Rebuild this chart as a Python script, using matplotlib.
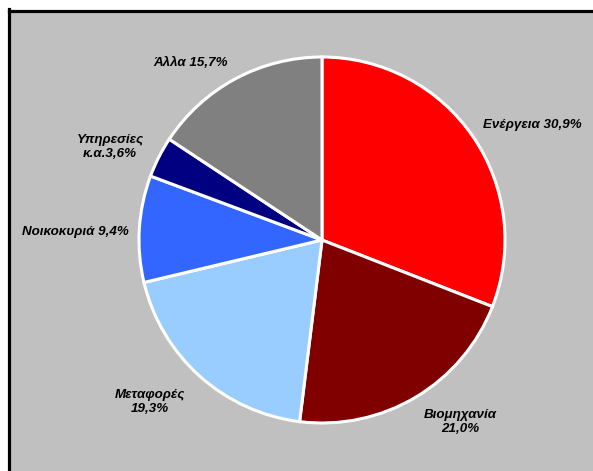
import matplotlib
matplotlib.use("Agg")
import matplotlib.pyplot as plt
from matplotlib.lines import Line2D
from matplotlib.patches import Rectangle

# Energy-sector shares (%)
sectors = ["Ενέργεια", "Βιομηχανία", "Μεταφορές", "Νοικοκυριά", "Υπηρεσίες\nκ.α.", "Άλλα"]
shares = [30.9, 21.0, 19.3, 9.4, 3.6, 15.7]
colors = ["#FF0000", "#800000", "#99CCFF", "#3366FF", "#000080", "#808080"]
separators = [" ", "\n", "\n", " ", "", " "]

# label anchor points, in pie-radius units
label_xy = [(1.148, 0.628), (0.754, -0.995), (-0.940, -0.885),
            (-1.350, 0.044), (-1.158, 0.508), (-0.721, 0.967)]

W, H = 593, 471
fig = plt.figure(figsize=(W / 100, H / 100), dpi=100)
fig.patch.set_facecolor("white")

# grey chart area with a heavy black border on the top and left
x0, ytop = 8.5 / W, 1 - 10.5 / H
fig.patches.append(Rectangle((x0, 0), 1 - x0, ytop, transform=fig.transFigure,
                             facecolor="#C0C0C0", edgecolor="none", zorder=-2))
fig.lines.append(Line2D([x0, 1], [ytop, ytop], transform=fig.transFigure,
                        color="black", linewidth=2.3, zorder=-1))
fig.lines.append(Line2D([x0, x0], [0, ytop + 1.2 / H], transform=fig.transFigure,
                        color="black", linewidth=2.3, zorder=-1))

cx, cy, r = 322, 240, 183
ax = fig.add_axes([(cx - r) / W, (H - cy - r) / H, 2 * r / W, 2 * r / H])
ax.set_facecolor("none")
ax.pie(shares, colors=colors, startangle=90, counterclock=False, radius=1.0,
       wedgeprops=dict(edgecolor="white", linewidth=2.2))
ax.set_xlim(-1, 1)
ax.set_ylim(-1, 1)
ax.set_aspect("equal")
ax.axis("off")

for name, v, sep, (lx, ly) in zip(sectors, shares, separators, label_xy):
    txt = f"{name}{sep}{v:.1f}".replace(".", ",") + "%"
    txt = txt.replace("κ,α,", "κ.α.")
    ax.text(lx, ly, txt, ha="center", va="center", fontsize=9.6,
            fontweight="bold", fontstyle="italic",
            family=["Liberation Sans", "DejaVu Sans"], color="black",
            linespacing=1.3, clip_on=False)

fig.savefig("out.png", dpi=100)
